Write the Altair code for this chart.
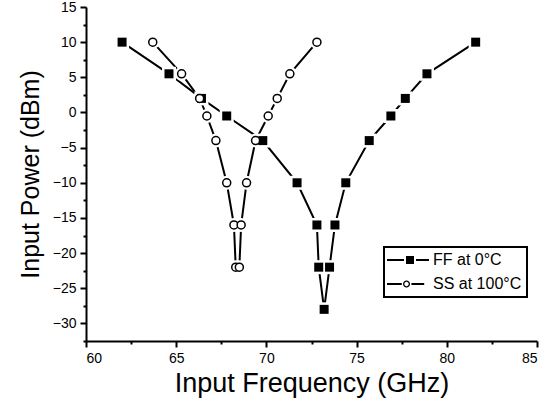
import altair as alt
import pandas as pd

# ---- data ----
ff_freq = [62.0, 64.6, 66.4, 67.8, 69.8, 71.7, 72.8, 72.9, 73.2, 73.5, 73.8, 74.4, 75.7, 76.9, 77.7, 78.9, 81.6]
ff_power = [10, 5.5, 2, -0.5, -4, -10, -16, -22, -28, -22, -16, -10, -4, -0.5, 2, 5.5, 10]
ss_freq = [63.7, 65.3, 66.3, 66.7, 67.2, 67.8, 68.2, 68.3, 68.5, 68.6, 68.9, 69.4, 70.1, 70.6, 71.3, 72.8]
ss_power = [10, 5.5, 2, -0.5, -4, -10, -16, -22, -22, -16, -10, -4, -0.5, 2, 5.5, 10]
series_names = ["FF at 0°C", "SS at 100°C"]
x_ticks = [60 + 2.5 * i for i in range(11)]
y_ticks = [-32.5 + 2.5 * i for i in range(20)]

ff = pd.DataFrame({"freq": ff_freq, "power": ff_power, "series": series_names[0],
                   "idx": list(range(len(ff_freq)))})
ss = pd.DataFrame({"freq": ss_freq, "power": ss_power, "series": series_names[1],
                   "idx": list(range(len(ss_freq)))})
df = pd.concat([ff, ss], ignore_index=True)

FONT = "Liberation Sans"
tick_cond = {"condition": {"test": "datum.value % 5 !== 0", "value": 3}, "value": 6}

x_enc = alt.X("freq:Q",
              scale=alt.Scale(domain=[60, 85], nice=False, zero=False),
              axis=alt.Axis(values=x_ticks, title="Input Frequency (GHz)",
                            labelExpr="datum.value % 5 === 0 ? datum.label : ''",
                            tickSize=tick_cond, labelPadding=4, titlePadding=5,
                            titleFontSize=27))
y_enc = alt.Y("power:Q",
              scale=alt.Scale(domain=[-32.5, 15], nice=False, zero=False),
              axis=alt.Axis(values=y_ticks, title="Input Power (dBm)",
                            labelExpr="datum.value % 5 === 0 ? datum.label : ''",
                            tickSize=tick_cond, labelPadding=4, titlePadding=9,
                            titleFontSize=25))

lines = alt.Chart(df).mark_line(color="black", strokeWidth=2).encode(
    x=x_enc, y=y_enc, detail="series:N", order="idx:Q")

ff_halo = alt.Chart(ff).mark_point(shape="square", filled=True, color="white",
                                   size=196, opacity=1).encode(x=x_enc, y=y_enc)
ss_halo = alt.Chart(ss).mark_point(shape="circle", filled=True, color="white",
                                   size=196, opacity=1).encode(x=x_enc, y=y_enc)
ff_pts = alt.Chart(ff).mark_point(shape="square", filled=True, color="black",
                                  size=81, opacity=1).encode(x=x_enc, y=y_enc)
ss_pts = alt.Chart(ss).mark_point(shape="circle", filled=True, fill="white",
                                  stroke="black", strokeWidth=1.5, size=64,
                                  opacity=1).encode(x=x_enc, y=y_enc)

# legend glyphs (line - marker - line), filled shapes only; 1 unit = 8 px
path_ff = ("M-1.25,-0.125H0.875V0.125H-1.25Z"
           "M1.125,-0.5H2.125V0.5H1.125Z"
           "M2.375,-0.125H4V0.125H2.375Z")
path_ss = ("M-1.25,-0.125H0.6V0.125H-1.25Z"
           "M1.63,0A0.44,0.44 0 1,1 0.75,0A0.44,0.44 0 1,1 1.63,0Z"
           "M1.465,0A0.275,0.275 0 1,0 0.915,0A0.275,0.275 0 1,0 1.465,0Z"
           "M1.8,-0.125H3.4V0.125H1.8Z")

leg = alt.Legend(title=None, orient="none", legendX=298, legendY=240,
                 strokeColor="black", fillColor="white", padding=5, rowPadding=8,
                 labelFont=FONT, labelFontSize=16, labelColor="black",
                 labelOffset=28, symbolOpacity=1, symbolFillColor="black",
                 symbolStrokeWidth=0, symbolSize=256)

legend_layer = alt.Chart(df).mark_point(filled=True, color="black", strokeWidth=0,
                                        size=256, opacity=0).encode(
    x=x_enc, y=y_enc,
    shape=alt.Shape("series:N", scale=alt.Scale(domain=series_names, range=[path_ff, path_ss]),
                    legend=leg),
)

chart = alt.layer(lines, ff_halo, ss_halo, ff_pts, ss_pts, legend_layer).properties(
    width=451, height=334,
    padding={"left": 86, "top": 7, "right": 9, "bottom": 69},
    autosize=alt.AutoSizeParams(type="none"),
).configure_view(stroke=None).configure_axis(
    grid=False, domainColor="black", domainWidth=2, tickColor="black", tickWidth=2,
    labelFont=FONT, labelFontSize=14, labelColor="black",
    titleFont=FONT, titleFontWeight="normal", titleColor="black",
).configure_legend(strokeWidth=2)

chart.save("out.html", embed_options={"renderer": "svg", "actions": False})
